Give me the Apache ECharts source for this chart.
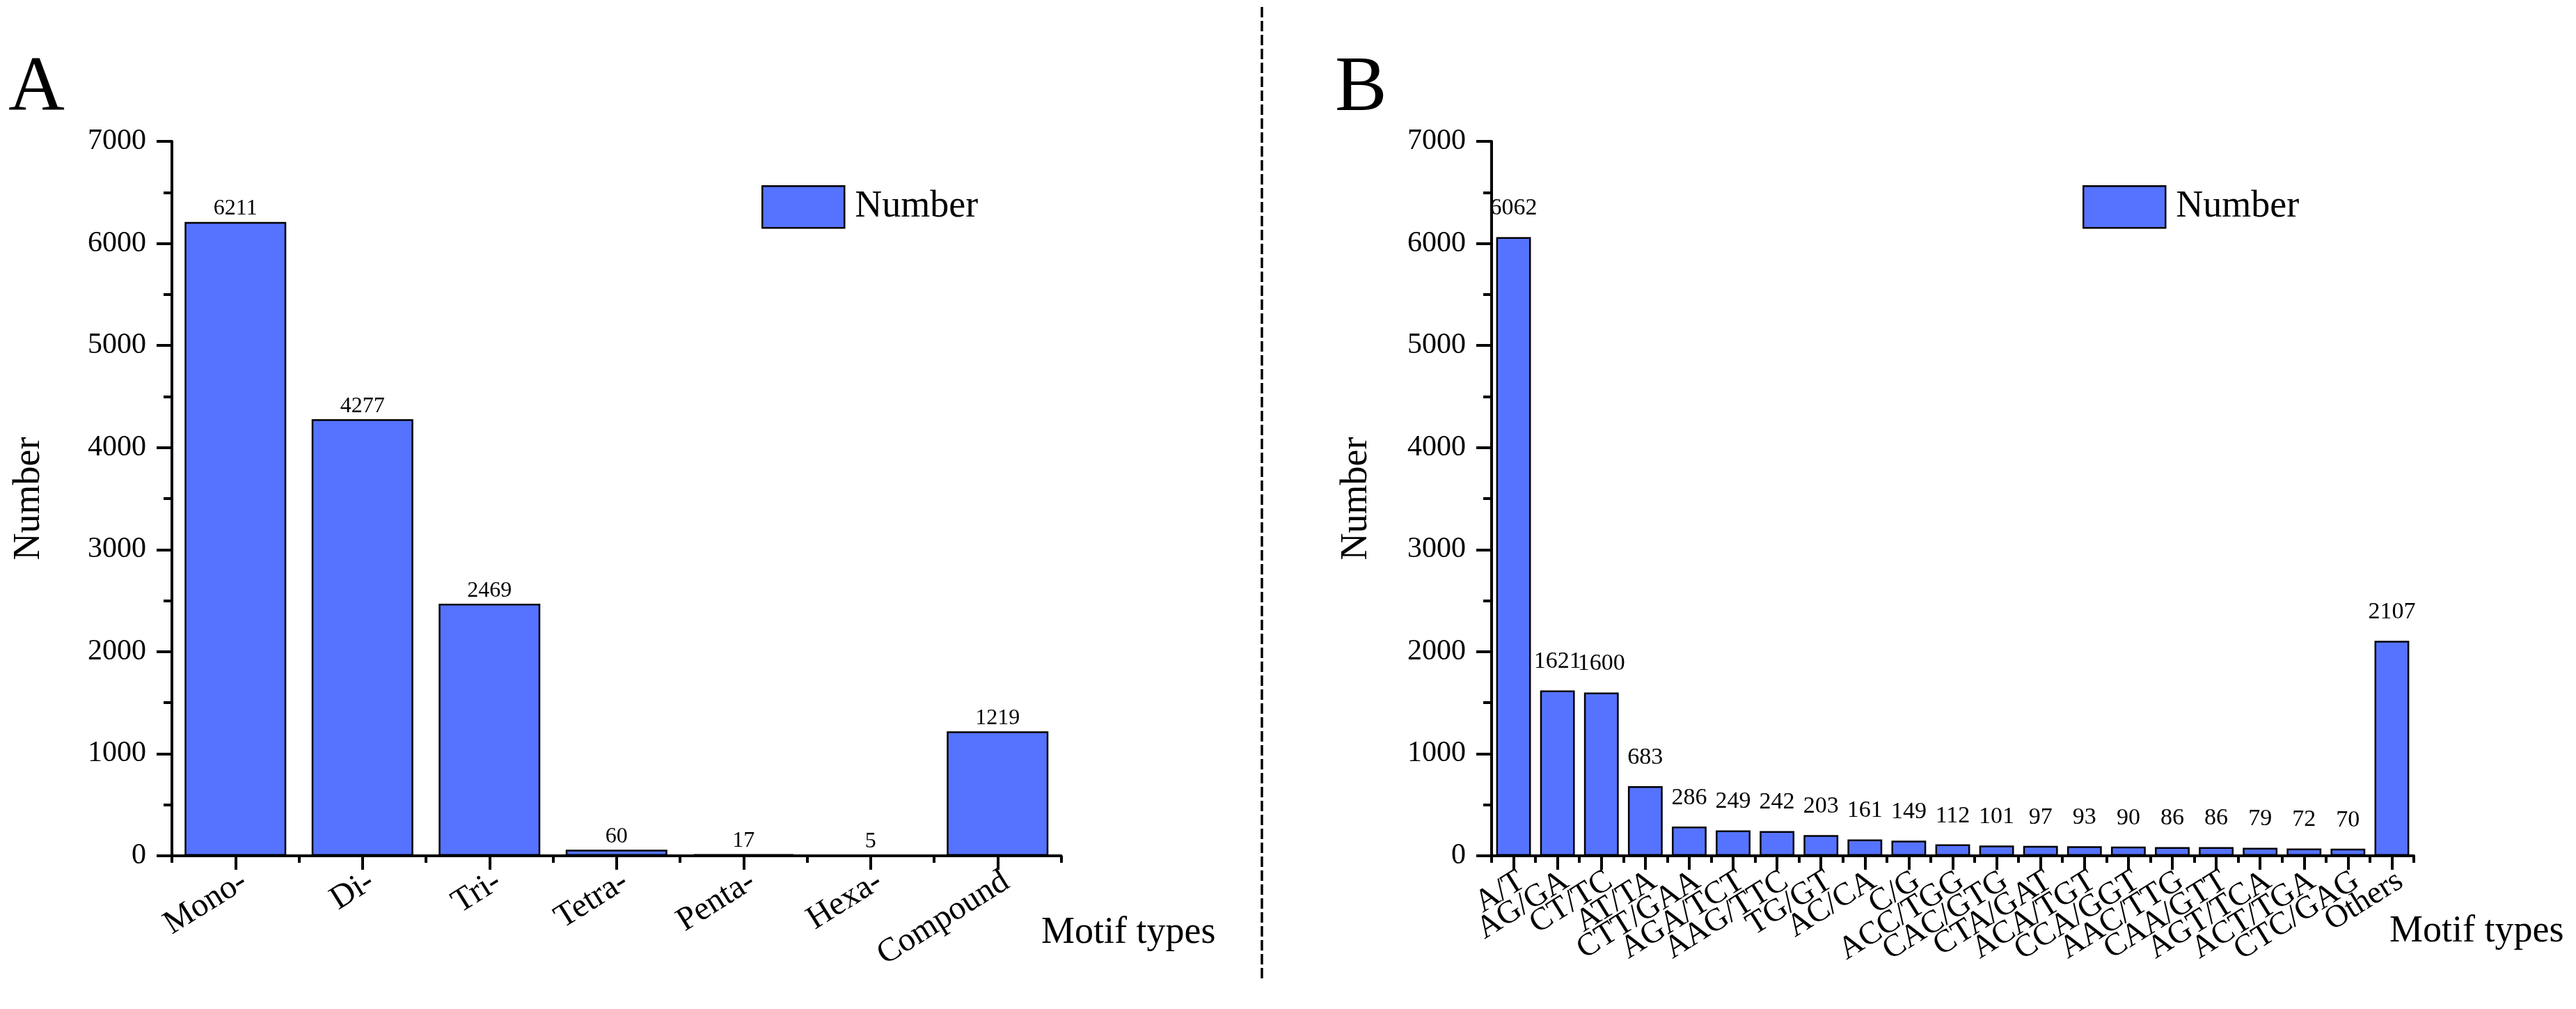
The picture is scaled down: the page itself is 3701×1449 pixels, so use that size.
<!DOCTYPE html>
<html>
<head>
<meta charset="utf-8">
<script src="https://cdn.jsdelivr.net/npm/echarts@6/dist/echarts.min.js"></script>
<style>
html,body{margin:0;padding:0;background:#fff;}
#c{width:3701px;height:1449px;}
</style>
</head>
<body>
<div id="c"></div>
<script>
const catsA = ['Mono-','Di-','Tri-','Tetra-','Penta-','Hexa-','Compound'];
const valsA = [6211,4277,2469,60,17,5,1219];
const catsB = ['A/T','AG/GA','CT/TC','AT/TA','CTT/GAA','AGA/TCT','AAG/TTC','TG/GT','AC/CA','C/G','ACC/TGG','CAC/GTG','CTA/GAT','ACA/TGT','CCA/GGT','AAC/TTG','CAA/GTT','AGT/TCA','ACT/TGA','CTC/GAG','Others'];
const valsB = [6062,1621,1600,683,286,249,242,203,161,149,112,101,97,93,90,86,86,79,72,70,2107];
const yMin = 0, yMax = 7000, yStep = 1000;
const seriesName = 'Number';
const yTitle = 'Number';
const xTitle = 'Motif types';
const panelLetters = ['A','B'];

const FONT = "'Liberation Serif','Times New Roman',serif";
const BAR = '#5573FF';
const chart = echarts.init(document.getElementById('c'), null, {renderer:'canvas'});

function mainX(gi, cats, fs){
  return {
    type:'category', gridIndex:gi, data:cats, position:'bottom',
    axisLine:{show:true, lineStyle:{color:'#000', width:4}},
    axisTick:{show:true, alignWithLabel:true, length:20, lineStyle:{color:'#000', width:4}},
    axisLabel:{show:true, interval:0, rotate:32, verticalAlign:'top', margin:13,
      fontFamily:FONT, fontSize:fs, color:'#000'},
    splitLine:{show:false}
  };
}
function boundX(gi, cats){
  return {
    type:'category', gridIndex:gi, data:cats, position:'bottom', offset:0,
    axisLine:{show:false},
    axisTick:{show:true, alignWithLabel:false, interval:0, length:10, lineStyle:{color:'#000', width:4}},
    axisLabel:{show:false}, splitLine:{show:false}
  };
}
function yAx(gi){
  return {
    type:'value', gridIndex:gi, min:yMin, max:yMax, interval:yStep,
    axisLine:{show:true, lineStyle:{color:'#000', width:4}},
    axisTick:{show:true, length:22, lineStyle:{color:'#000', width:4}},
    minorTick:{show:true, splitNumber:2, length:12, lineStyle:{color:'#000', width:4}},
    axisLabel:{margin:37, fontFamily:FONT, fontSize:42, color:'#000', formatter:function(v){return String(v);}},
    splitLine:{show:false}, minorSplitLine:{show:false}
  };
}
function legendAt(left){
  return {
    left:left, top:261, icon:'rect', itemWidth:118, itemHeight:60,
    data:[seriesName],
    itemStyle:{color:BAR, borderColor:'#000', borderWidth:2.5},
    textStyle:{fontFamily:FONT, fontSize:54, color:'#000', padding:[0,0,0,10]}
  };
}
function txt(x, y, s, size, extra){
  return Object.assign({
    type:'text', x:x, y:y,
    style:{text:s, fontFamily:FONT, fontSize:size, fill:'#000', align:'left', verticalAlign:'middle'}
  }, extra||{});
}

const option = {
  backgroundColor:'#fff',
  animation:false,
  grid:[
    {left:247, top:203, width:1277.5, height:1026, containLabel:false},
    {left:2143, top:203, width:1325, height:1026, containLabel:false}
  ],
  xAxis:[mainX(0,catsA,48), mainX(1,catsB,46), boundX(0,catsA), boundX(1,catsB)],
  yAxis:[yAx(0), yAx(1)],
  legend:[legendAt(1089), legendAt(2987)],
  series:[
    {name:seriesName, type:'bar', xAxisIndex:0, yAxisIndex:0, data:valsA, barWidth:'80%',
     itemStyle:{color:BAR, borderColor:'#000', borderWidth:2.5},
     label:{show:true, position:'top', distance:3, fontFamily:FONT, fontSize:32, color:'#000'}},
    {name:seriesName, type:'bar', xAxisIndex:1, yAxisIndex:1, data:valsB, barWidth:'79%',
     itemStyle:{color:BAR, borderColor:'#000', borderWidth:2.5},
     label:{show:true, position:'top', distance:24, fontFamily:FONT, fontSize:34, color:'#000'}}
  ],
  graphic:[
    txt(12, 129, panelLetters[0], 112),
    txt(1918, 129, panelLetters[1], 112),
    {type:'text', x:42, y:716, rotation:Math.PI/2,
     style:{text:yTitle, fontFamily:FONT, fontSize:54, fill:'#000', align:'center', verticalAlign:'middle'}},
    {type:'text', x:1949, y:716, rotation:Math.PI/2,
     style:{text:yTitle, fontFamily:FONT, fontSize:54, fill:'#000', align:'center', verticalAlign:'middle'}},
    txt(1496, 1340, xTitle, 54),
    txt(3433, 1338, xTitle, 54),
    {type:'line', shape:{x1:1813, y1:10, x2:1813, y2:1408},
     style:{stroke:'#000', lineWidth:3.5, lineDash:[15,5]}}
  ]
};
chart.setOption(option);
</script>
</body>
</html>
